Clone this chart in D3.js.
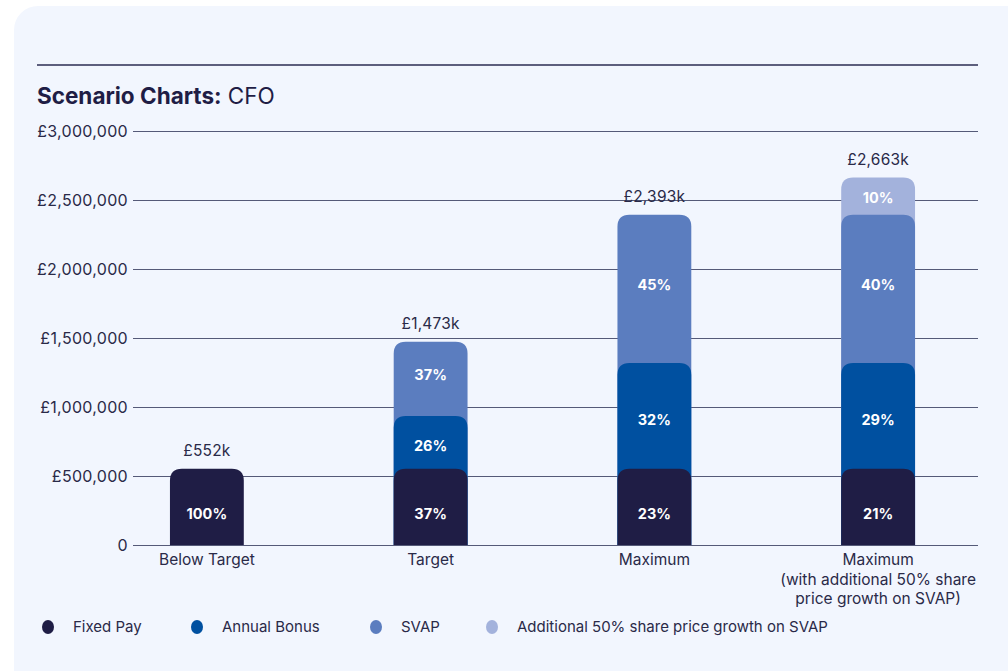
<!DOCTYPE html>
<html>
<head>
<meta charset="utf-8">
<script src="https://cdn.jsdelivr.net/npm/d3@7"></script>
<style>
  html, body { margin: 0; padding: 0; background: #ffffff; }
  svg { display: block; font-family: Inter, "Noto Sans", sans-serif; }
</style>
</head>
<body>
<svg id="chart" width="1008" height="671"></svg>
<script>
// Scenario names (category axis); multi-line labels split on "\n"
const scenarios = [
  "Below Target",
  "Target",
  "Maximum",
  "Maximum\n(with additional 50% share\nprice growth on SVAP)"
];

// Pay elements, in stacking order from the bottom
const elements = ["Fixed Pay", "Annual Bonus", "SVAP", "Additional 50% share price growth on SVAP"];

// Values per scenario in £k
const fixedPay    = [552, 552, 552, 552];
const annualBonus = [0, 383, 766, 766];
const svap        = [0, 538, 1075, 1075];
const additional  = [0, 0, 0, 270];

// Value axis ticks (£)
const yTicks = [0, 500000, 1000000, 1500000, 2000000, 2500000, 3000000];

const colors = ["#1f1d45", "#0050a0", "#5b7dbf", "#a3b2dc"];
const textColor = "#2a2a48";

const svg = d3.select("#chart");

// Card background
svg.append("rect")
  .attr("x", 14).attr("y", 6)
  .attr("width", 1030).attr("height", 700)
  .attr("rx", 24)
  .attr("fill", "#f2f6fe");

// Header rule and title
svg.append("line")
  .attr("x1", 37).attr("x2", 978).attr("y1", 65).attr("y2", 65)
  .attr("stroke", "#2b2d52").attr("stroke-width", 1.5);

const title = svg.append("text")
  .attr("x", 37).attr("y", 104)
  .attr("font-size", 22.5).attr("fill", "#1f1d45");
title.append("tspan").attr("font-weight", 700).text("Scenario Charts:");
title.append("tspan").attr("font-weight", 400).text(" CFO");

// Scales
const plot = { left: 133, right: 978, top: 131, bottom: 545 };
const x = d3.scaleBand()
  .domain(scenarios)
  .range([95, 990])
  .paddingInner(0.67)
  .paddingOuter(0.335);
const y = d3.scaleLinear()
  .domain([0, 3000000])
  .range([plot.bottom, plot.top]);

// Gridlines + tick labels via axis
const yAxis = d3.axisLeft(y)
  .tickValues(yTicks)
  .tickSize(-(plot.right - plot.left))
  .tickPadding(5)
  .tickFormat(d => d === 0 ? "0" : "£" + d3.format(",")(d));

const gy = svg.append("g")
  .attr("transform", `translate(${plot.left},0)`)
  .call(yAxis);
gy.select(".domain").remove();
gy.selectAll(".tick line").attr("stroke", "#555a78").attr("stroke-width", 1.2);
gy.selectAll(".tick text")
  .attr("font-size", 16).attr("letter-spacing", 0.3).attr("fill", textColor)
  .attr("font-family", "Inter, 'Noto Sans', sans-serif");

// Stack the data
const rows = scenarios.map((s, i) => ({
  scenario: s,
  "Fixed Pay": fixedPay[i] * 1000,
  "Annual Bonus": annualBonus[i] * 1000,
  "SVAP": svap[i] * 1000,
  "Additional 50% share price growth on SVAP": additional[i] * 1000
}));
const series = d3.stack().keys(elements)(rows);

// Rounded-top bar path running from the segment top down to the baseline
const r = 12;
function barPath(x0, w, yTop, yBase) {
  const rr = Math.min(r, (yBase - yTop));
  return `M${x0},${yBase}V${yTop + rr}Q${x0},${yTop} ${x0 + rr},${yTop}` +
         `H${x0 + w - rr}Q${x0 + w},${yTop} ${x0 + w},${yTop + rr}V${yBase}Z`;
}

// Draw top layers first so each lower segment sits over the one above
const bars = svg.append("g");
for (let k = series.length - 1; k >= 0; k--) {
  const s = series[k];
  bars.append("g")
    .selectAll("path")
    .data(s.filter(d => d[1] - d[0] > 0))
    .join("path")
    .attr("d", d => barPath(x(d.data.scenario), x.bandwidth(), y(d[1]), y(0)))
    .attr("fill", colors[k]);
}

// Percentage labels inside segments (small per-layer nudge for optical centring)
const labelNudge = [7, 4, -4, 2];
const totals = rows.map(r => elements.reduce((a, k) => a + r[k], 0));
series.forEach((s, k) => {
  svg.append("g")
    .selectAll("text")
    .data(s.filter(d => d[1] - d[0] > 0))
    .join("text")
    .attr("x", d => x(d.data.scenario) + x.bandwidth() / 2)
    .attr("y", d => (y(d[0]) + y(d[1])) / 2 + labelNudge[k])
    .attr("dy", "0.35em")
    .attr("text-anchor", "middle")
    .attr("font-size", 14.5).attr("font-weight", 700)
    .attr("fill", "#ffffff")
    .text(d => {
      const i = scenarios.indexOf(d.data.scenario);
      return Math.round((d[1] - d[0]) / totals[i] * 100) + "%";
    });
});

// Totals above bars
svg.append("g")
  .selectAll("text")
  .data(scenarios)
  .join("text")
  .attr("x", d => x(d) + x.bandwidth() / 2)
  .attr("y", (d, i) => y(totals[i]) - 13)
  .attr("text-anchor", "middle")
  .attr("font-size", 15.5).attr("letter-spacing", 0.2).attr("fill", textColor)
  .text((d, i) => "£" + d3.format(",")(totals[i] / 1000) + "k");

// Category labels
const cat = svg.append("g")
  .selectAll("text")
  .data(scenarios)
  .join("text")
  .attr("x", d => x(d) + x.bandwidth() / 2)
  .attr("y", 565)
  .attr("text-anchor", "middle")
  .attr("font-size", 15.5).attr("fill", textColor);
cat.selectAll("tspan")
  .data(d => d.split("\n"))
  .join("tspan")
  .attr("x", function () { return d3.select(this.parentNode).attr("x"); })
  .attr("dy", (d, i) => i === 0 ? 0 : 19.5)
  .text(d => d);

// Legend
const legendX = [48, 197, 376, 492];
const legend = svg.append("g")
  .selectAll("g")
  .data(elements)
  .join("g")
  .attr("transform", (d, i) => `translate(${legendX[i]},627)`);
legend.append("ellipse")
  .attr("rx", 6).attr("ry", 7)
  .attr("fill", (d, i) => colors[i]);
legend.append("text")
  .attr("x", 25).attr("dy", "0.35em")
  .attr("font-size", 15).attr("fill", textColor)
  .text(d => d);
</script>
</body>
</html>
